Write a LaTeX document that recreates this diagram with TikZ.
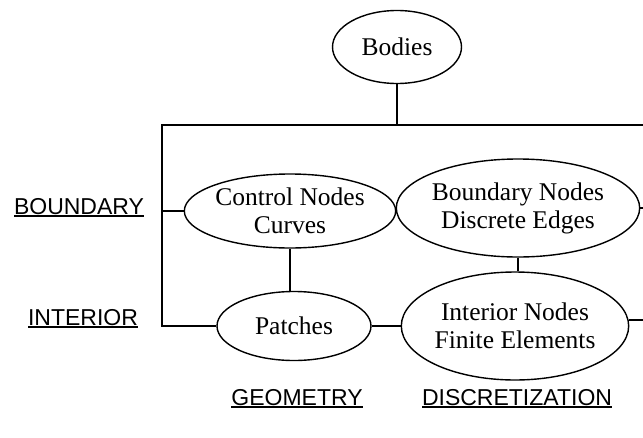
\documentclass[tikz,border=0pt]{standalone}
\usepackage{fontspec}
\setmainfont{Liberation Serif}
\newfontfamily\headfont{Liberation Sans}
\usetikzlibrary{shapes.geometric}

% underlined heading with a heavy rule just below the baseline
\newcommand\ulhead[1]{\setbox0\hbox{#1}\rlap{\copy0}\rule[-2.8pt]{\wd0}{1.5pt}}

\tikzset{
  blob/.style={draw, ellipse, line width=1.4pt, inner sep=0pt, align=center,
    font=\fontsize{25.5}{28}\selectfont},
  head/.style={anchor=base, inner sep=0pt, font=\headfont\fontsize{23}{26}\selectfont},
  link/.style={line width=1.8pt}
}

\begin{document}
\begin{tikzpicture}[x=1pt, y=-1pt]
  \useasboundingbox (0,0) rectangle (643,437);

  % category nodes
  \node[blob, minimum width=129pt, minimum height=73pt] (bodies) at (397,47) {Bodies};
  \node[blob, minimum width=206pt, minimum height=74pt] (ctrl) at (290,211) {Control Nodes\\Curves};
  \node[blob, minimum width=215pt, minimum height=98pt] (bnd) at (518,208) {Boundary Nodes\\Discrete Edges};
  \node[blob, minimum width=154pt, minimum height=69pt] (patch) at (294,326) {Patches};
  \node[blob, minimum width=204pt, minimum height=108pt] (intn) at (515,326) {Interior Nodes\\Finite Elements};

  % frame corners and free ends
  \coordinate (topL) at (162,125);
  \coordinate (topR) at (643,125);
  \coordinate (botL) at (162,326);
  \coordinate (bndR) at (643,208);
  \coordinate (intR) at (643,320);

  % row and column headings
  \node[head] (hbnd) at (79,214) {\ulhead{BOUNDARY}};
  \node[head] (hint) at (83,325) {\ulhead{INTERIOR}};
  \node[head] (hgeo) at (297,405) {\ulhead{GEOMETRY}};
  \node[head] (hdis) at (517,405) {\ulhead{DISCRETIZATION}};

  % tree connectors
  \draw[link] (bodies.south) -- (bodies.south |- topL);
  \draw[link] (topR) -- (topL) -- (botL) -- (patch.west);
  \draw[link] (topL |- ctrl.west) -- (ctrl.west);
  \draw[link] (ctrl.east) -- (bnd.west |- ctrl.east);
  \draw[link] (ctrl.south) -- (ctrl.south |- patch.north);
  \draw[link] (patch.east) -- (intn.west);
  \draw[link] (bnd.south) -- (bnd.south |- intn.north);
  \draw[link] (bnd.east) -- (bndR);
  \draw[link] (intn.east |- intR) -- (intR);
\end{tikzpicture}
\end{document}
